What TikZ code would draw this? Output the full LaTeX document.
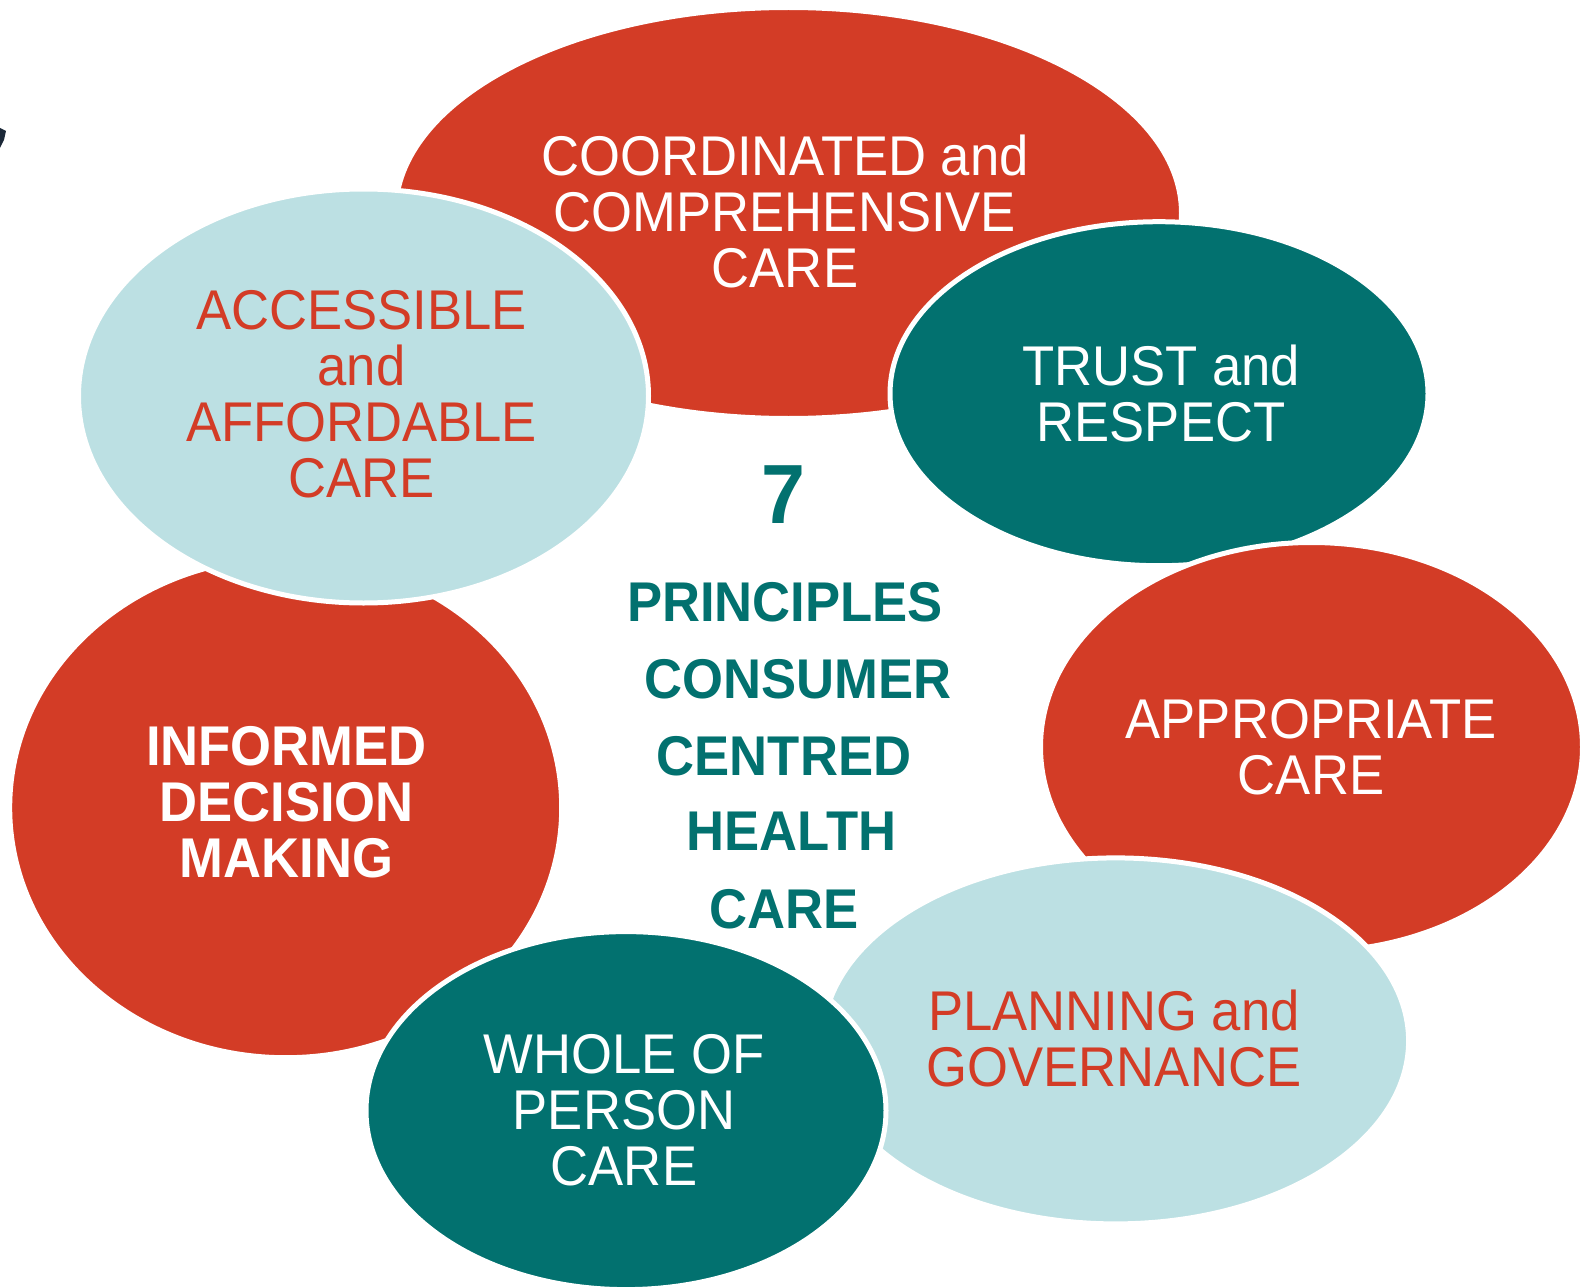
\documentclass[tikz,border=0pt]{standalone}
\usepackage{fontspec}
\usetikzlibrary{shapes.geometric}
\newfontfamily\labfont{Liberation Sans}[FakeStretch=0.94]
\definecolor{cred}{HTML}{D33C26}
\definecolor{cteal}{HTML}{02716F}
\definecolor{clight}{HTML}{BCE0E3}
\definecolor{cnavy}{HTML}{1B2838}
\tikzset{
  blob/.style={ellipse, draw=white, line width=5pt, inner sep=0pt, outer sep=0pt},
  lab/.style={align=center, inner sep=0pt, font=\labfont\fontsize{56}{56}\selectfont},
  mid/.style={anchor=base, inner sep=0pt, text=cteal, font=\labfont\bfseries\fontsize{56}{56}\selectfont}
}
\begin{document}
\begin{tikzpicture}[x=1pt,y=-1pt]
\useasboundingbox (0,0) rectangle (1583,1287);
\fill[white] (0,0) rectangle (1583,1287);
\fill[cnavy] (0,128) -- (6,131) -- (4,140) -- (0,148) -- cycle;
% ellipses, back to front
\node[blob, fill=cred, minimum width=786pt, minimum height=411pt] (coord) at (788.5,213) {};
\node[blob, fill=cred, minimum width=552pt, minimum height=500pt] (inform) at (285.7,807.7) {};
\node[blob, fill=clight, minimum width=570pt, minimum height=414pt] (access) at (363.5,396) {};
\node[blob, fill=cteal, minimum width=538pt, minimum height=344pt] (trust) at (1159,393.7) {};
\node[blob, fill=cred, minimum width=542pt, minimum height=409pt] (approp) at (1311.5,747) {};
\node[blob, fill=clight, minimum width=586pt, minimum height=366pt] (plan) at (1115.6,1040.9) {};
\node[blob, fill=cteal, minimum width=520pt, minimum height=358pt] (whole) at (626,1110.6) {};
% labels
\node[lab, text=white] (tcoord) at (785,211.5) {COORDINATED and\\COMPREHENSIVE\\CARE};
\node[lab, text=cred] (taccess) at (361.5,394) {ACCESSIBLE\\and\\AFFORDABLE\\CARE};
\node[lab, text=white] (ttrust) at (1161,393.4) {TRUST and\\RESPECT};
\node[lab, text=white] (tapprop) at (1311,746.8) {APPROPRIATE\\CARE};
\node[lab, text=cred] (tplan) at (1114,1038.9) {PLANNING and\\GOVERNANCE};
\node[lab, text=white, font=\labfont\bfseries\fontsize{56}{56}\selectfont] (tinform) at (286.5,802.5) {INFORMED\\DECISION\\MAKING};
\node[lab, text=white] (twhole) at (624,1110.5) {WHOLE OF\\PERSON\\CARE};
% centre text
\node[mid, font=\labfont\bfseries\fontsize{84}{84}\selectfont] (seven) at (783,523) {7};
\node[mid] (c1) at (785,621.7) {PRINCIPLES};
\node[mid] (c2) at (798,698.3) {CONSUMER};
\node[mid] (c3) at (784,775) {CENTRED};
\node[mid] (c4) at (791.5,850) {HEALTH};
\node[mid] (c5) at (784,928) {CARE};
\end{tikzpicture}
\end{document}
